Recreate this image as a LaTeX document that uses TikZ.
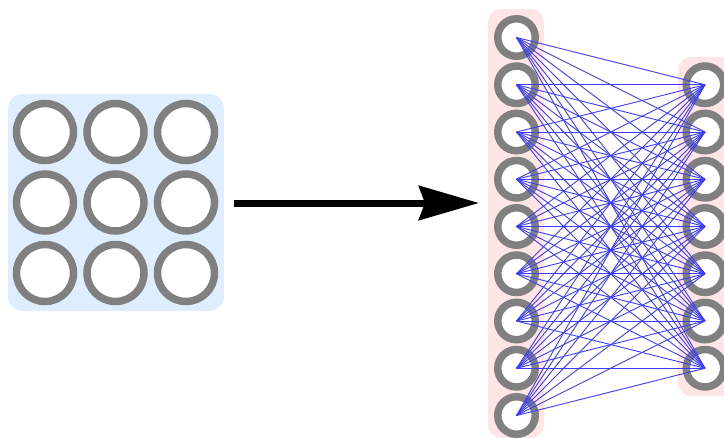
\documentclass[tikz,border=0pt]{standalone}
\usetikzlibrary{arrows.meta}
\definecolor{gridbg}{RGB}{222,238,255}
\definecolor{layerbg}{RGB}{255,229,229}
\definecolor{ringgray}{RGB}{128,128,128}
\definecolor{linkblue}{RGB}{60,60,255}
\begin{document}
\begin{tikzpicture}[x=1pt,y=-1pt,
  bigunit/.style={circle,draw=ringgray,line width=7.5pt,fill=white,minimum size=57pt,inner sep=0pt},
  smallunit/.style={circle,draw=ringgray,line width=7.5pt,fill=white,minimum size=37.5pt,inner sep=0pt},
  link/.style={draw=linkblue,line width=0.9pt}]
  \useasboundingbox (0,0) rectangle (724,439);
  % backgrounds
  \fill[gridbg,rounded corners=15pt] (8,94) rectangle (224,311);
  \fill[layerbg,rounded corners=13pt] (488,9) rectangle (544,438);
  \fill[layerbg,rounded corners=13pt] (678,57) rectangle (740,396);
  % 3x3 grid of units
  \foreach \r/\y in {1/132,2/202.5,3/273}
    \foreach \c/\x in {1/45,2/115.5,3/186}
      \node[bigunit] (g\r\c) at (\x,\y) {};
  % flattening arrow
  \coordinate (arrowstart) at (234,203);
  \coordinate (arrowend) at (479,203);
  \draw[line width=7pt,-{Stealth[length=60pt,width=34pt,inset=6pt]}] (arrowstart) -- (arrowend);
  % input column (9 units) and output column (7 units)
  \foreach \i in {1,...,9}
    \node[smallunit] (in\i) at (516.5,{37.5+(\i-1)*47.25}) {};
  \foreach \j in {1,...,7}
    \node[smallunit] (out\j) at (705,{84.75+(\j-1)*47.25}) {};
  % full connections
  \foreach \i in {1,...,9}
    \foreach \j in {1,...,7}
      \draw[link] (in\i.center) -- (out\j.center);
\end{tikzpicture}
\end{document}
